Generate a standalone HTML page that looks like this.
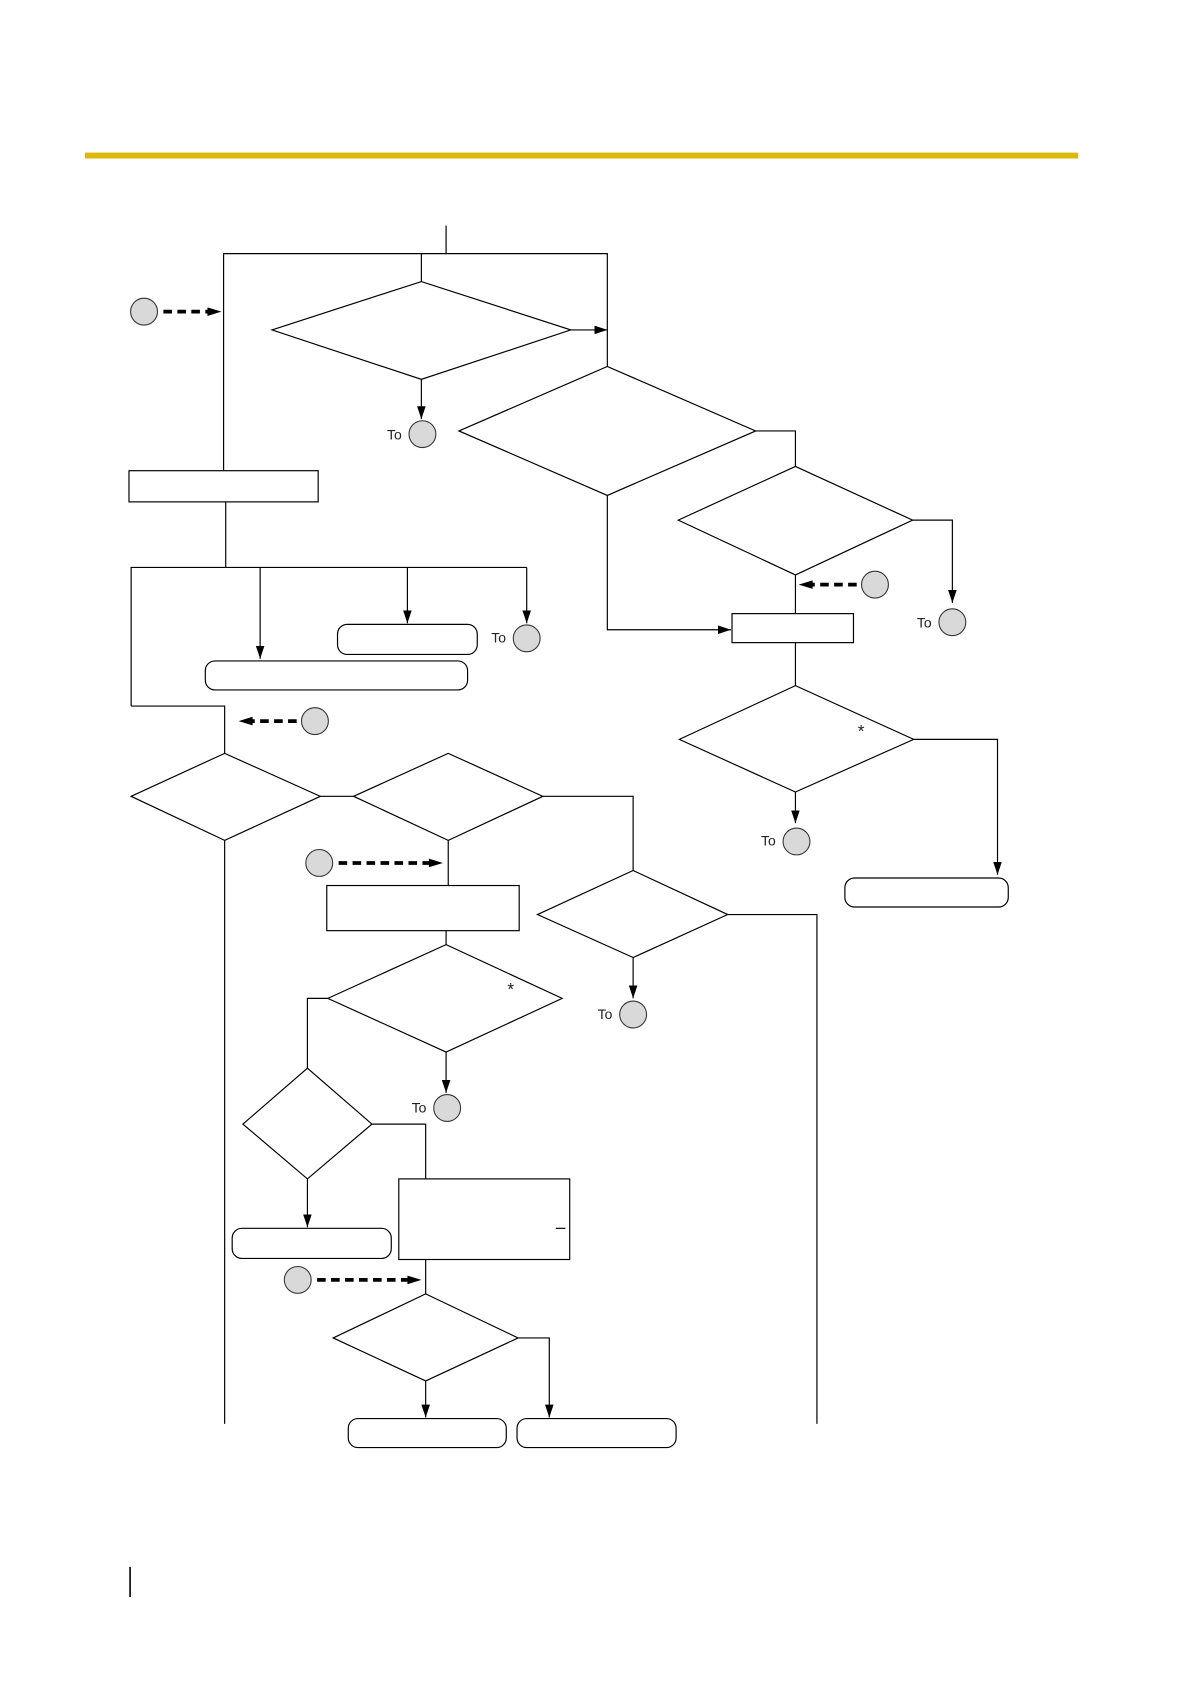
<!DOCTYPE html>
<html><head><meta charset="utf-8"><style>
html,body{margin:0;padding:0;background:#fff;}
svg{display:block;}
text{font-family:"Liberation Sans",sans-serif;font-size:13px;fill:#222;}
</style></head><body>
<svg width="1191" height="1684" viewBox="0 0 1108 1567" preserveAspectRatio="none" xmlns="http://www.w3.org/2000/svg">
<defs>
<marker id="a" viewBox="0 0 12 8" refX="12" refY="4" markerWidth="12" markerHeight="8" markerUnits="userSpaceOnUse" orient="auto"><path d="M0,0L12,4L0,8z" fill="#000"/></marker>
</defs>
<rect x="79" y="142" width="924" height="5.5" fill="#dcb80a"/>
<g fill="none" stroke="#000" stroke-width="1.1">
<polyline points="415,210 415,236"/>
<polyline points="208,438 208,236 565,236 565,341"/>
<polyline points="392,236 392,262"/>
<polygon points="253,307 392,262 531,307 392,353" fill="#fff"/>
<line x1="531" y1="307" x2="565" y2="307" marker-end="url(#a)"/>
<line x1="392" y1="353" x2="392" y2="390" marker-end="url(#a)"/>
<polygon points="427,401 565,341 703,401 565,461" fill="#fff"/>
<polyline points="703,401 740,401 740,434"/>
<polygon points="631,484 740,434 849,484 740,535" fill="#fff"/>
<polyline points="849,484 886,484 886,561" marker-end="url(#a)"/>
<line x1="740" y1="535" x2="740" y2="571"/>
<polyline points="565,461 565,586 680,586" marker-end="url(#a)"/>
<rect x="681" y="571" width="113" height="27"/>
<line x1="740" y1="598" x2="740" y2="638"/>
<polygon points="632,688 740,638 850,688 740,737" fill="#fff"/>
<polyline points="850,688 928,688 928,814" marker-end="url(#a)"/>
<rect x="786" y="817" width="152" height="27" rx="9"/>
<line x1="740" y1="737" x2="740" y2="766" marker-end="url(#a)"/>
<rect x="120" y="438" width="176" height="29"/>
<line x1="210" y1="467" x2="210" y2="528"/>
<polyline points="122,657 122,528 490,528"/>
<line x1="242" y1="528" x2="242" y2="613" marker-end="url(#a)"/>
<line x1="379" y1="528" x2="379" y2="580" marker-end="url(#a)"/>
<line x1="490" y1="528" x2="490" y2="580" marker-end="url(#a)"/>
<rect x="314" y="581" width="130" height="28" rx="9"/>
<rect x="191" y="615" width="244" height="27" rx="9"/>
<polyline points="122,657 209,657 209,701"/>
<polygon points="122,741 209,701 298,741 209,782" fill="#fff"/>
<line x1="298" y1="741" x2="329" y2="741"/>
<polygon points="329,741 417,701 505,741 417,782" fill="#fff"/>
<polyline points="505,741 589,741 589,810"/>
<polygon points="500,851 589,810 677,851 589,891" fill="#fff"/>
<polyline points="677,851 760,851 760,1325"/>
<line x1="589" y1="891" x2="589" y2="929" marker-end="url(#a)"/>
<line x1="209" y1="782" x2="209" y2="1325"/>
<line x1="417" y1="782" x2="417" y2="824"/>
<rect x="304" y="824" width="179" height="42"/>
<line x1="415" y1="866" x2="415" y2="879"/>
<polygon points="305,929 415,879 523,929 415,979" fill="#fff"/>
<line x1="415" y1="979" x2="415" y2="1017" marker-end="url(#a)"/>
<polyline points="305,929 286,929 286,994"/>
<polygon points="226,1046 286,994 346,1046 286,1097" fill="#fff"/>
<polyline points="346,1046 396,1046 396,1097"/>
<rect x="371" y="1097" width="159" height="75"/>
<line x1="517" y1="1143" x2="526" y2="1143"/>
<line x1="286" y1="1097" x2="286" y2="1142" marker-end="url(#a)"/>
<rect x="216" y="1143" width="148" height="28" rx="9"/>
<line x1="396" y1="1172" x2="396" y2="1204"/>
<polygon points="310,1245 396,1204 482,1245 396,1285" fill="#fff"/>
<line x1="396" y1="1285" x2="396" y2="1319" marker-end="url(#a)"/>
<polyline points="482,1245 511,1245 511,1319" marker-end="url(#a)"/>
<rect x="324" y="1320" width="147" height="27" rx="9"/>
<rect x="481" y="1320" width="148" height="27" rx="9"/>
<line x1="121" y1="1458" x2="121" y2="1486" stroke-width="1.5"/>
</g>
<g fill="none" stroke="#000" stroke-width="3.5" stroke-dasharray="8,5">
<line x1="152" y1="290" x2="194" y2="290"/>
<line x1="797" y1="544" x2="755" y2="544"/>
<line x1="276" y1="671" x2="234" y2="671"/>
<line x1="315" y1="803" x2="400" y2="803"/>
<line x1="295" y1="1191" x2="380" y2="1191"/>
</g>
<g fill="#000">
<path d="M193,286L206,290L193,294z"/>
<path d="M756,540L743,544L756,548z"/>
<path d="M235,667L222,671L235,675z"/>
<path d="M399,799L412,803L399,807z"/>
<path d="M379,1187L392,1191L379,1195z"/>
</g>
<g fill="#d9d9d9" stroke="#333" stroke-width="1">
<circle cx="134" cy="290" r="12.5"/>
<circle cx="393" cy="404" r="12.5"/>
<circle cx="886" cy="579" r="12.5"/>
<circle cx="814" cy="544" r="12.5"/>
<circle cx="490" cy="594" r="12.5"/>
<circle cx="293" cy="671" r="12.5"/>
<circle cx="741" cy="783" r="12.5"/>
<circle cx="297" cy="803" r="12.5"/>
<circle cx="589" cy="944" r="12.5"/>
<circle cx="416" cy="1031" r="12.5"/>
<circle cx="277" cy="1191" r="12.5"/>
</g>
<text x="360" y="409">To</text>
<text x="853" y="584">To</text>
<text x="457" y="598">To</text>
<text x="708" y="787">To</text>
<text x="556" y="948">To</text>
<text x="383" y="1035">To</text>
<text x="798" y="686" style="font-size:16px">*</text>
<text x="472" y="926" style="font-size:16px">*</text>
</svg>
</body></html>
